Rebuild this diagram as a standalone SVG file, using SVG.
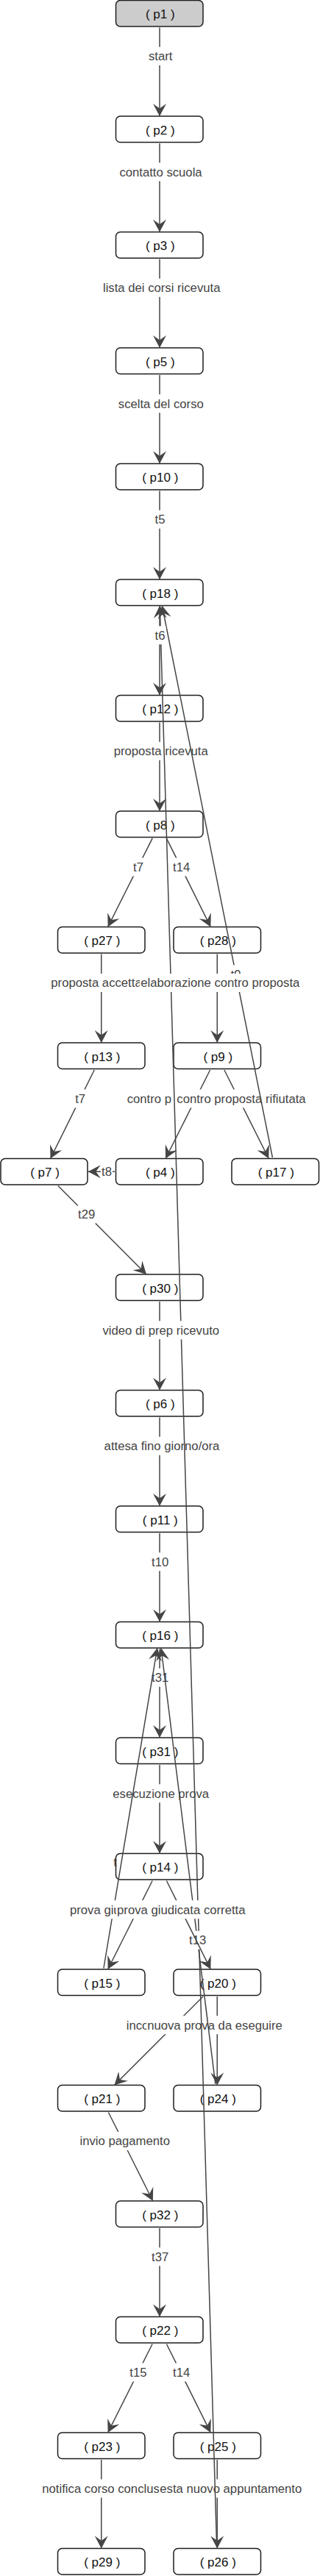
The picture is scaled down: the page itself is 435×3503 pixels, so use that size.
<svg xmlns="http://www.w3.org/2000/svg" width="435" height="3503" viewBox="0 0 435 3503">
<style>
.n rect{fill:#fff;stroke:#1e1e1e;stroke-width:1.5}
.n.start rect{fill:#cccccc}
.n text{font-family:"Liberation Sans",Arial,sans-serif;font-size:17px;fill:#111;text-anchor:middle}
.e line{stroke:#454545;stroke-width:1.5;fill:none;marker-end:url(#ah)}
.e rect{fill:#fff}
.e text{font-family:"Liberation Sans",Arial,sans-serif;font-size:16.7px;fill:#444}
.e text.m{text-anchor:middle}
</style>
<defs>
<marker id="ah" viewBox="-18 -10 19 20" refX="0" refY="0" markerWidth="19" markerHeight="20" markerUnits="userSpaceOnUse" orient="auto">
<path d="M0,0 L-17,-9 L-10.5,0 L-17,9 Z" fill="#454545"/>
</marker>
</defs>
<rect width="435" height="3503" fill="#fff"/>
<g id="nodes">
<g id="p1" class="n start"><rect x="157.5" y="0.5" width="118.5" height="35.5" rx="6"/><text x="217.8" y="25">( p1 )</text></g>
<g id="p2" class="n"><rect x="157.5" y="158" width="118.5" height="35.5" rx="6"/><text x="217.8" y="182.5">( p2 )</text></g>
<g id="p3" class="n"><rect x="157.5" y="315.5" width="118.5" height="35.5" rx="6"/><text x="217.8" y="340">( p3 )</text></g>
<g id="p5" class="n"><rect x="157.5" y="473" width="118.5" height="35.5" rx="6"/><text x="217.8" y="497.5">( p5 )</text></g>
<g id="p10" class="n"><rect x="157.5" y="630.5" width="118.5" height="35.5" rx="6"/><text x="217.8" y="655">( p10 )</text></g>
<g id="p18" class="n"><rect x="157.5" y="788" width="118.5" height="35.5" rx="6"/><text x="217.8" y="812.5">( p18 )</text></g>
<g id="p12" class="n"><rect x="157.5" y="945.5" width="118.5" height="35.5" rx="6"/><text x="217.8" y="970">( p12 )</text></g>
<g id="p8" class="n"><rect x="157.5" y="1103" width="118.5" height="35.5" rx="6"/><text x="217.8" y="1127.5">( p8 )</text></g>
<g id="p27" class="n"><rect x="78.5" y="1260.5" width="118.5" height="35.5" rx="6"/><text x="138.8" y="1285">( p27 )</text></g>
<g id="p28" class="n"><rect x="236" y="1260.5" width="118.5" height="35.5" rx="6"/><text x="296.3" y="1285">( p28 )</text></g>
<g id="p13" class="n"><rect x="78.5" y="1418" width="118.5" height="35.5" rx="6"/><text x="138.8" y="1442.5">( p13 )</text></g>
<g id="p9" class="n"><rect x="236" y="1418" width="118.5" height="35.5" rx="6"/><text x="296.3" y="1442.5">( p9 )</text></g>
<g id="p7" class="n"><rect x="1" y="1575.5" width="118" height="35.5" rx="6"/><text x="61" y="1600">( p7 )</text></g>
<g id="p4" class="n"><rect x="157.5" y="1575.5" width="118.5" height="35.5" rx="6"/><text x="217.8" y="1600">( p4 )</text></g>
<g id="p17" class="n"><rect x="315" y="1575.5" width="118.5" height="35.5" rx="6"/><text x="375.3" y="1600">( p17 )</text></g>
<g id="p30" class="n"><rect x="157.5" y="1733" width="118.5" height="35.5" rx="6"/><text x="217.8" y="1757.5">( p30 )</text></g>
<g id="p6" class="n"><rect x="157.5" y="1890.5" width="118.5" height="35.5" rx="6"/><text x="217.8" y="1915">( p6 )</text></g>
<g id="p11" class="n"><rect x="157.5" y="2048" width="118.5" height="35.5" rx="6"/><text x="217.8" y="2072.5">( p11 )</text></g>
<g id="p16" class="n"><rect x="157.5" y="2205.5" width="118.5" height="35.5" rx="6"/><text x="217.8" y="2230">( p16 )</text></g>
<g id="p31" class="n"><rect x="157.5" y="2363" width="118.5" height="35.5" rx="6"/><text x="217.8" y="2387.5">( p31 )</text></g>
<g id="p14" class="n"><rect x="157.5" y="2520.5" width="118.5" height="35.5" rx="6"/><text x="217.8" y="2545">( p14 )</text></g>
<g id="p15" class="n"><rect x="78.5" y="2678" width="118.5" height="35.5" rx="6"/><text x="138.8" y="2702.5">( p15 )</text></g>
<g id="p20" class="n"><rect x="236" y="2678" width="118.5" height="35.5" rx="6"/><text x="296.3" y="2702.5">( p20 )</text></g>
<g id="p21" class="n"><rect x="78.5" y="2835.5" width="118.5" height="35.5" rx="6"/><text x="138.8" y="2860">( p21 )</text></g>
<g id="p24" class="n"><rect x="236" y="2835.5" width="118.5" height="35.5" rx="6"/><text x="296.3" y="2860">( p24 )</text></g>
<g id="p32" class="n"><rect x="157.5" y="2993" width="118.5" height="35.5" rx="6"/><text x="217.8" y="3017.5">( p32 )</text></g>
<g id="p22" class="n"><rect x="157.5" y="3150.5" width="118.5" height="35.5" rx="6"/><text x="217.8" y="3175">( p22 )</text></g>
<g id="p23" class="n"><rect x="78.5" y="3308" width="118.5" height="35.5" rx="6"/><text x="138.8" y="3332.5">( p23 )</text></g>
<g id="p25" class="n"><rect x="236" y="3308" width="118.5" height="35.5" rx="6"/><text x="296.3" y="3332.5">( p25 )</text></g>
<g id="p29" class="n"><rect x="78.5" y="3465.5" width="118.5" height="35.5" rx="6"/><text x="138.8" y="3490">( p29 )</text></g>
<g id="p26" class="n"><rect x="236" y="3465.5" width="118.5" height="35.5" rx="6"/><text x="296.3" y="3490">( p26 )</text></g>
</g>
<g id="connectors">
<g class="e"><line x1="217" y1="37.5" x2="217" y2="158"/><rect x="201" y="63.8" width="34.5" height="25"/><text class="m" x="218.2" y="82.1">start</text></g>
<g class="e"><line x1="217" y1="195" x2="217" y2="315.5"/><rect x="161.3" y="221.3" width="114.5" height="25"/><text class="m" x="218.5" y="239.6">contatto scuola</text></g>
<g class="e"><line x1="217" y1="352.5" x2="217" y2="473"/><rect x="138.9" y="378.8" width="161.6" height="25"/><text class="m" x="219.7" y="397.1">lista dei corsi ricevuta</text></g>
<g class="e"><line x1="217" y1="510" x2="217" y2="630.5"/><rect x="159.8" y="536.3" width="118" height="25"/><text class="m" x="218.8" y="554.6">scelta del corso</text></g>
<g class="e"><line x1="217" y1="667.5" x2="217" y2="788"/><rect x="209.5" y="693.8" width="16" height="25"/><text class="m" x="217.5" y="712.1">t5</text></g>
<g class="e"><line x1="217" y1="982.5" x2="217" y2="1103"/><rect x="153.6" y="1008.8" width="130.2" height="25"/><text class="m" x="218.7" y="1027.1">proposta ricevuta</text></g>
<g class="e"><line x1="217" y1="1927.5" x2="217" y2="2048"/><rect x="140.5" y="1953.8" width="159" height="25"/><text class="m" x="220" y="1972.1">attesa fino giorno/ora</text></g>
<g class="e"><line x1="217" y1="2085" x2="217" y2="2205.5"/><rect x="205.6" y="2111.3" width="24.2" height="25"/><text class="m" x="217.7" y="2129.6">t10</text></g>
<g class="e"><line x1="217" y1="2242.5" x2="217" y2="2363"/><rect x="205.6" y="2268.8" width="24.2" height="25"/><text class="m" x="217.7" y="2287.1">t31</text></g>
<g class="e"><line x1="217" y1="2400" x2="217" y2="2520.5"/><rect x="152.2" y="2426.3" width="133" height="25"/><text class="m" x="218.7" y="2444.6">esecuzione prova</text></g>
<g class="e"><line x1="276" y1="2715" x2="155.5" y2="2835.5"/><rect x="170.5" y="2741.2" width="30" height="25"/><text x="171.7" y="2759.5">inco</text></g>
<g class="e"><line x1="295.25" y1="2715" x2="295.25" y2="2835.5"/><rect x="199.1" y="2741.2" width="185.8" height="25"/><text class="m" x="292" y="2759.5">nuova prova da eseguire</text></g>
<g class="e"><line x1="147.4" y1="2872.5" x2="207.8" y2="2993"/><rect x="107.4" y="2899" width="124.6" height="25"/><text class="m" x="169.7" y="2917.3">invio pagamento</text></g>
<g class="e"><line x1="217" y1="3030" x2="217" y2="3150.5"/><rect x="205.6" y="3056.3" width="24.2" height="25"/><text class="m" x="217.7" y="3074.6">t37</text></g>
<g class="e"><line x1="207.1" y1="3187.5" x2="146.65" y2="3308"/><rect x="175.8" y="3213.5" width="24.2" height="25"/><text class="m" x="187.9" y="3231.8">t15</text></g>
<g class="e"><line x1="226.4" y1="3187.5" x2="286.35" y2="3308"/><rect x="234.6" y="3213.5" width="24.2" height="25"/><text class="m" x="246.7" y="3231.8">t14</text></g>
<g class="e"><line x1="137.75" y1="3345" x2="137.75" y2="3465.5"/><rect x="56" y="3371.5" width="161" height="25"/><text x="57.3" y="3389.8">notifica corso conclus</text></g>
<g class="e"><line x1="295.25" y1="3345" x2="295.25" y2="3465.5"/><rect x="216.5" y="3371.5" width="196" height="25"/><text x="217.3" y="3389.8">esta nuovo appuntamento</text></g>
<g class="e"><line x1="207.2" y1="1139.8" x2="146.65" y2="1260.5"/><rect x="180" y="1166.5" width="16" height="25"/><text class="m" x="188" y="1184.8">t7</text></g>
<g class="e"><line x1="226.3" y1="1139.8" x2="286.35" y2="1260.5"/><rect x="234.6" y="1166.5" width="24.2" height="25"/><text class="m" x="246.7" y="1184.8">t14</text></g>
<g class="e"><line x1="137.75" y1="1297.5" x2="137.75" y2="1418"/><rect x="68" y="1324" width="125" height="25"/><text x="69.3" y="1342.3">proposta accetta</text></g>
<g class="e"><line x1="128.2" y1="1455" x2="68.55" y2="1575.5"/><rect x="101.2" y="1481.5" width="16" height="25"/><text class="m" x="109.2" y="1499.8">t7</text></g>
<g class="e"><line x1="156" y1="1593.25" x2="119.8" y2="1593.25"/><rect x="137" y="1580.8" width="16" height="25"/><text class="m" x="145" y="1599.1">t8</text></g>
<g class="e"><line x1="78.9" y1="1612.5" x2="199" y2="1733"/><rect x="105.6" y="1639" width="24.2" height="25"/><text class="m" x="117.7" y="1657.3">t29</text></g>
<g class="e"><line x1="285.6" y1="1455" x2="225.1" y2="1575.5"/><rect x="171.5" y="1481.5" width="66" height="25"/><text x="172.7" y="1499.8">contro p</text></g>
<g class="e"><line x1="304.9" y1="1455" x2="365.3" y2="1575.5"/><rect x="238" y="1481.5" width="180" height="25"/><text class="m" x="328" y="1499.8">contro proposta rifiutata</text></g>
<g class="e"><line x1="370.4" y1="1574" x2="220.3" y2="823.5"/><rect x="312.6" y="1312.5" width="16" height="25"/><text class="m" x="320.6" y="1330.8">t9</text></g>
<g class="e"><line x1="294.66" y1="3464" x2="217.27" y2="823.5"/></g>
<g class="e"><line x1="292.8" y1="2834" x2="218.96" y2="2241"/><rect x="256.6" y="2625.8" width="24.2" height="25"/><text class="m" x="268.7" y="2644.1">t13</text></g>
<g class="e"><line x1="140.9" y1="2676.5" x2="213.8" y2="2241"/><text x="154.3" y="2537.8">t</text></g>
<g class="e"><line x1="207.1" y1="2557.5" x2="146.65" y2="2678"/><rect x="94" y="2584.2" width="64" height="25"/><text x="95" y="2602.5">prova giu</text></g>
<g class="e"><line x1="226.4" y1="2557.5" x2="286.35" y2="2678"/><rect x="158" y="2584.2" width="176.6" height="25"/><text class="m" x="246.3" y="2602.5">prova giudicata corretta</text></g>
<g class="e"><line x1="217" y1="825" x2="217" y2="945.5"/><rect x="209.5" y="851.3" width="16" height="25"/><text class="m" x="217.5" y="869.6">t6</text></g>
<g class="e"><line x1="295.25" y1="1297.5" x2="295.25" y2="1418"/><rect x="190" y="1324" width="218.6" height="25"/><text class="m" x="299.3" y="1342.3">elaborazione contro proposta</text></g>
<g class="e"><line x1="217" y1="1770" x2="217" y2="1890.5"/><rect x="138.5" y="1796.3" width="160.7" height="25"/><text class="m" x="218.8" y="1814.6">video di prep ricevuto</text></g>
</g>
</svg>
